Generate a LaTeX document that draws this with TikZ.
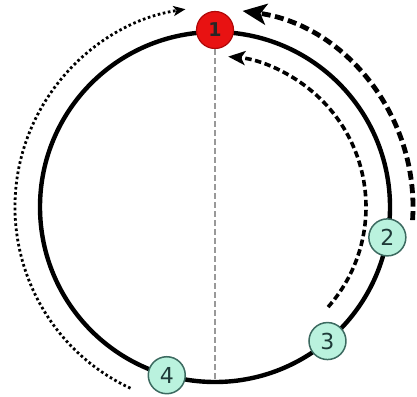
\documentclass[tikz,border=0pt]{standalone}
\usepackage{fontspec}
\setmainfont{DejaVu Sans}
\usetikzlibrary{arrows.meta}
\definecolor{redfill}{HTML}{E81212}
\definecolor{redline}{HTML}{B00808}
\definecolor{tealfill}{HTML}{BAF2DE}
\definecolor{tealline}{HTML}{3C6A60}
\definecolor{numtext}{HTML}{1E3A38}
\tikzset{
  ring/.style={line width=4.4pt, draw=black},
  rednode/.style={circle, fill=redfill, draw=redline, line width=1.2pt, minimum size=37pt, inner sep=0pt, font=\fontsize{19}{19}\selectfont\bfseries, text=black!85},
  tealnode/.style={circle, fill=tealfill, draw=tealline, line width=1.5pt, minimum size=37pt, inner sep=0pt, font=\fontsize{22}{22}\selectfont, text=numtext},
  axisline/.style={draw=gray!80, line width=1.2pt, dash pattern=on 6pt off 3pt},
  dotarc/.style={line width=2.8pt, dash pattern=on 2.6pt off 2.6pt, -{Stealth[length=12pt,width=10pt,inset=3pt]}},
  bigarc/.style={line width=4.8pt, dash pattern=on 9pt off 4.5pt, -{Stealth[length=24pt,width=21pt,inset=6pt]}},
  midarc/.style={line width=3.6pt, dash pattern=on 6.5pt off 3.5pt, -{Stealth[length=17pt,width=14pt,inset=4pt]}}
}
\begin{document}
\begin{tikzpicture}[x=1pt,y=1pt]
\useasboundingbox (0,0) rectangle (417,396);
\coordinate (O) at (215,189);
% outer arcs
\coordinate (LS) at ([shift={(O)}]-115:200);
\draw[dotarc] (LS) arc[start angle=-115, end angle=-261.5, radius=200];
\coordinate (RS) at ([shift={(O)}]-3.8:198);
\draw[bigarc] (RS) arc[start angle=-3.8, end angle=82, radius=198];
\coordinate (IS) at ([shift={(O)}]-41.5:151);
\draw[midarc] (IS) arc[start angle=-41.5, end angle=85, radius=151];
% main circle
\draw[ring] (O) circle[radius=175];
\coordinate (B) at ([shift={(O)}]-90:175);
% nodes
\node[rednode] (n1) at ([shift={(O)}]90:177) {1};
\node[tealnode] (n2) at ([shift={(O)}]-10:175) {2};
\node[tealnode] (n3) at ([shift={(O)}]-50:175) {3};
\node[tealnode] (n4) at ([shift={(O)}]-106:175) {4};
\draw[axisline] (n1.south) -- (B);
\end{tikzpicture}
\end{document}
